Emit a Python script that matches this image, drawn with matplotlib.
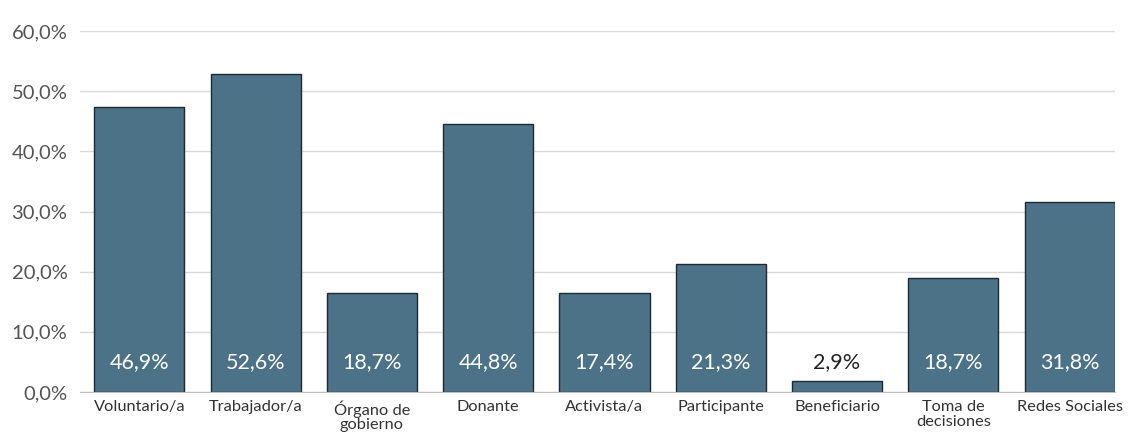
import matplotlib
matplotlib.use("Agg")
import matplotlib.pyplot as plt
from matplotlib.ticker import FuncFormatter

categories = ["Voluntario/a", "Trabajador/a", "Órgano de\ngobierno", "Donante",
              "Activista/a", "Participante", "Beneficiario", "Toma de\ndecisiones",
              "Redes Sociales"]
# bar heights as drawn in the reference
bar_values = [47.4, 52.9, 16.4, 44.5, 16.4, 21.2, 1.8, 18.9, 31.5]
# value labels as printed in the reference
value_labels = ["46,9%", "52,6%", "18,7%", "44,8%", "17,4%", "21,3%", "2,9%", "18,7%", "31,8%"]
y_ticks = [0, 10, 20, 30, 40, 50, 60]

plt.rcParams['font.family'] = ['Lato', 'DejaVu Sans']

fig = plt.figure(figsize=(11.31, 4.36), dpi=100)
ax = fig.add_axes([80/1131, 44/436, (1115-80)/1131, (392-31)/436])

x = list(range(len(categories)))
ax.bar(x, bar_values, width=0.775, color="#4b7287", edgecolor="#1e2a31", linewidth=1.0, zorder=3)

for xi, v, lab in zip(x, bar_values, value_labels):
    color = "white" if v > 8 else "#222222"
    ax.text(xi, 5, lab, ha="center", va="center", fontsize=15.5, color=color, zorder=4)

ax.set_ylim(0, 60)
ax.set_xlim(-0.51, 8.39)
ax.set_yticks(y_ticks)
ax.yaxis.set_major_formatter(FuncFormatter(lambda v, p: f"{v:.1f}%".replace(".", ",")))
ax.grid(axis="y", color="#d9d9d9", linewidth=1.0, zorder=0)
ax.set_axisbelow(True)
for s in ["top", "right", "left"]:
    ax.spines[s].set_visible(False)
ax.spines["bottom"].set_color("#bfbfbf")
ax.spines["bottom"].set_zorder(5)
ax.tick_params(axis="y", length=0, pad=9, labelsize=14.5, labelcolor="#555555")
ax.tick_params(axis="x", length=0, pad=6, labelsize=11.8, labelcolor="#333333")
ax.set_xticks(x)
ax.set_xticklabels(categories, linespacing=1.05)

fig.savefig("out.png", dpi=100)
